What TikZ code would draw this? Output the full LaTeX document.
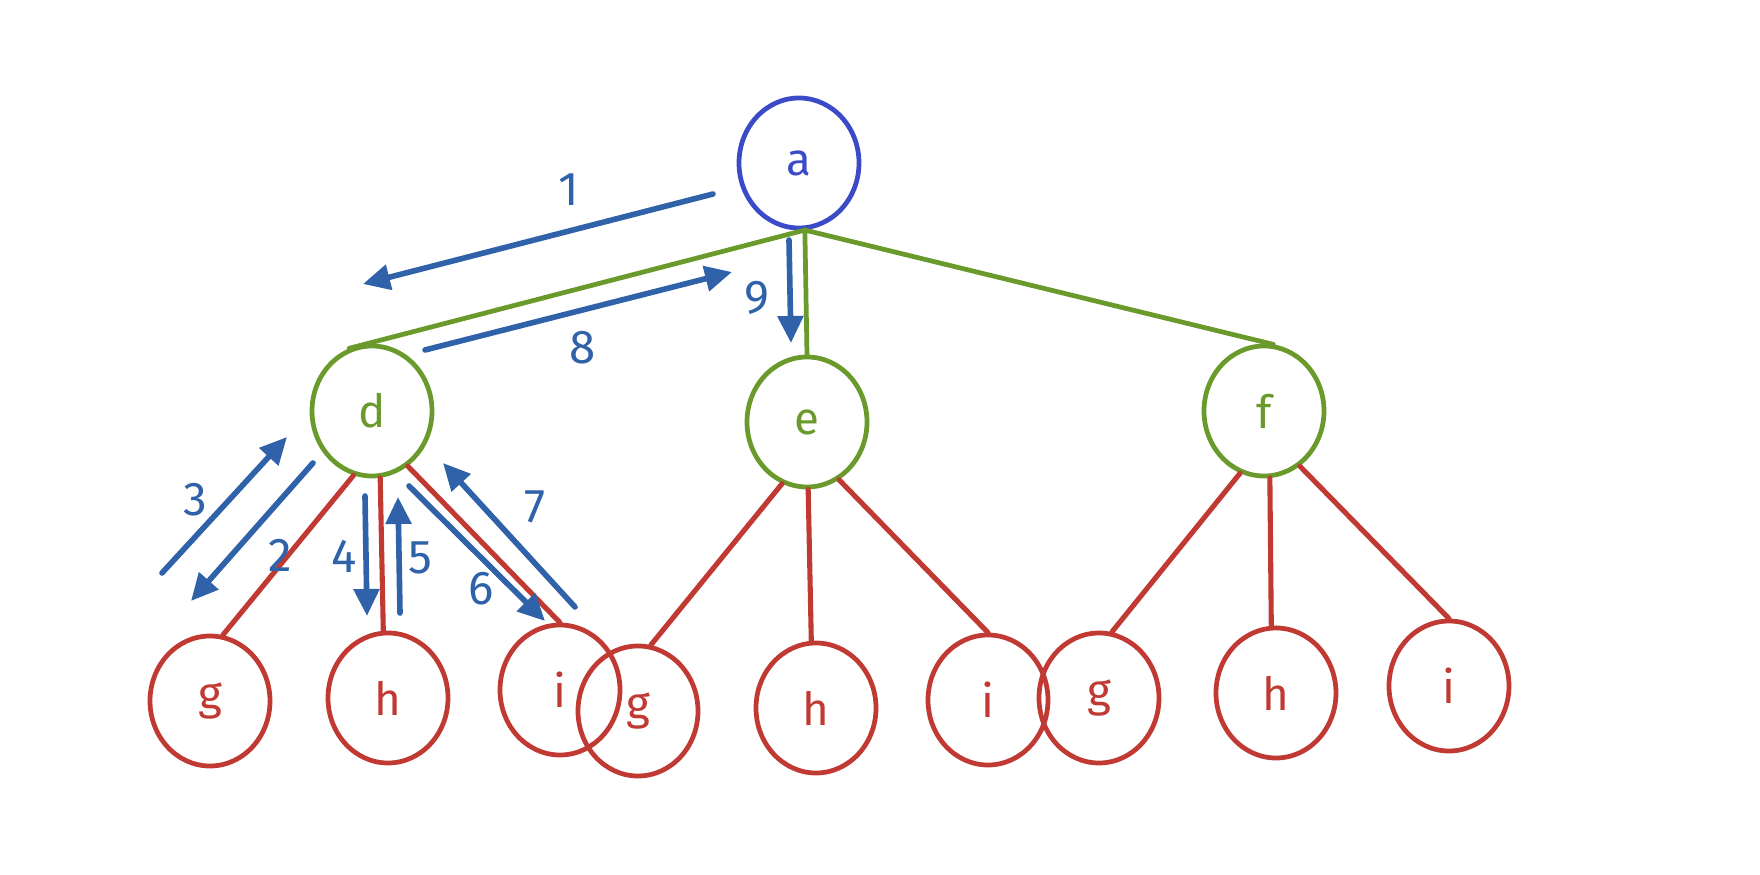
\documentclass[tikz,border=0pt]{standalone}
\usepackage{fontspec}
\setmainfont{Fira Sans}
\usetikzlibrary{arrows.meta}
\usetikzlibrary{shapes.geometric}
\definecolor{RootBlue}{HTML}{3B4BC8}
\definecolor{MidGreen}{HTML}{6A9A2C}
\definecolor{LeafRed}{HTML}{C03932}
\definecolor{StepBlue}{HTML}{2F62A8}
\tikzstyle{TreeNode}=[ellipse, draw, line width=1.35pt, minimum width=1.2cm, minimum height=1.3cm, inner sep=0pt, font=\fontsize{13}{15}\selectfont]
\tikzstyle{RootNode}=[TreeNode, draw=RootBlue, text=RootBlue]
\tikzstyle{MidNode}=[TreeNode, draw=MidGreen, text=MidGreen]
\tikzstyle{LeafNode}=[TreeNode, draw=LeafRed, text=LeafRed]
\tikzstyle{MidEdge}=[MidGreen, line width=1.35pt, line cap=round]
\tikzstyle{LeafEdge}=[LeafRed, line width=1.45pt, line cap=round]
\tikzstyle{StepEdge}=[-{Triangle[length=2.7mm,width=2.5mm]}, StepBlue, line width=1.6pt, line cap=round]
\tikzstyle{StepLabel}=[StepBlue, font=\fontsize{13.5}{15}\selectfont]

\begin{document}
\begin{tikzpicture}
\useasboundingbox (0,0) rectangle (17.6,8.74);

\node[RootNode](a) at (7.99,7.11) {a};
\node[MidNode](d) at (3.72,4.63) {d};
\node[MidNode](e) at (8.07,4.52) {e};
\node[MidNode](f) at (12.64,4.63) {f};
\node[LeafNode](dg) at (2.10,1.73) {g};
\node[LeafNode](dh) at (3.88,1.76) {h};
\node[LeafNode](di) at (5.60,1.84) {i};
\node[LeafNode](eg) at (6.38,1.63) {g};
\node[LeafNode](eh) at (8.16,1.66) {h};
\node[LeafNode](ei) at (9.88,1.74) {i};
\node[LeafNode](fg) at (10.99,1.76) {g};
\node[LeafNode](fh) at (12.76,1.81) {h};
\node[LeafNode](fi) at (14.49,1.88) {i};

\draw[MidEdge](a.275) -- (d.110);
\draw[MidEdge](a.275) -- (e.north);
\draw[MidEdge](a.275) -- (f.82);

\draw[LeafEdge](d.254) -- (dg.79);
\draw[LeafEdge](d.277) -- (dh.94);
\draw[LeafEdge](d.303) -- (di.90);
\draw[LeafEdge](e.248) -- (eg.79);
\draw[LeafEdge](e.271) -- (eh.94);
\draw[LeafEdge](e.299) -- (ei.90);
\draw[LeafEdge](f.249) -- (fg.79);
\draw[LeafEdge](f.275) -- (fh.94);
\draw[LeafEdge](f.303) -- (fi.90);

% visiting order
\coordinate (s1) at (7.13,6.80); \coordinate (t1) at (3.63,5.90);
\coordinate (s2) at (3.13,4.11); \coordinate (t2) at (1.91,2.73);
\coordinate (s3) at (1.62,3.01); \coordinate (t3) at (2.87,4.37);
\coordinate (s4) at (3.65,3.78); \coordinate (t4) at (3.67,2.58);
\coordinate (s5) at (4.00,2.61); \coordinate (t5) at (3.98,3.77);
\coordinate (s6) at (4.09,3.88); \coordinate (t6) at (5.45,2.53);
\coordinate (s7) at (5.75,2.67); \coordinate (t7) at (4.43,4.11);
\coordinate (s8) at (4.25,5.24); \coordinate (t8) at (7.32,6.02);
\coordinate (s9) at (7.89,6.34); \coordinate (t9) at (7.91,5.31);

\draw[StepEdge](s1) -- (t1);
\draw[StepEdge](s2) -- (t2);
\draw[StepEdge](s3) -- (t3);
\draw[StepEdge](s4) -- (t4);
\draw[StepEdge](s5) -- (t5);
\draw[StepEdge](s6) -- (t6);
\draw[StepEdge](s7) -- (t7);
\draw[StepEdge](s8) -- (t8);
\draw[StepEdge](s9) -- (t9);

\node[StepLabel](n1) at (5.69,6.84) {1};
\node[StepLabel](n2) at (2.80,3.19) {2};
\node[StepLabel](n3) at (1.95,3.74) {3};
\node[StepLabel](n4) at (3.44,3.18) {4};
\node[StepLabel](n5) at (4.20,3.16) {5};
\node[StepLabel](n6) at (4.81,2.85) {6};
\node[StepLabel](n7) at (5.35,3.67) {7};
\node[StepLabel](n8) at (5.83,5.26) {8};
\node[StepLabel](n9) at (7.57,5.76) {9};
\end{tikzpicture}
\end{document}
